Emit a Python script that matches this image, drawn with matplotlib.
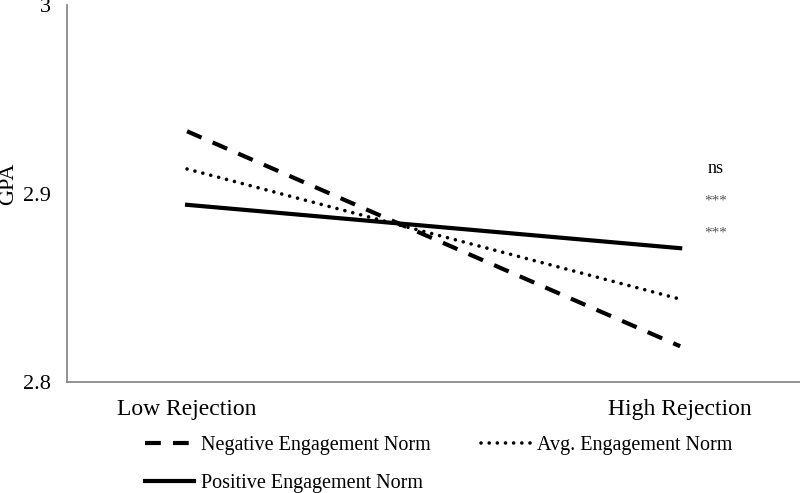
import matplotlib
matplotlib.use("Agg")
import matplotlib.pyplot as plt

categories = ["Low Rejection", "High Rejection"]
neg_norm = [2.933, 2.819]
avg_norm = [2.913, 2.844]
pos_norm = [2.894, 2.871]
sig_labels = ["ns", "***", "***"]
sig_y = [2.913, 2.896, 2.879]

plt.rcParams["font.family"] = ["Liberation Serif", "DejaVu Serif"]

fig = plt.figure(figsize=(8, 4.93), dpi=100)
ax = fig.add_axes([0.084, 0.225, 0.916, 0.765])

x = [0, 1]
l_neg, = ax.plot(x, neg_norm, color="black", lw=3, ls=(0, (3.8, 2.9)),
                 solid_capstyle="butt", dash_capstyle="butt")
l_avg, = ax.plot(x, avg_norm, color="black", lw=2.6, ls=(0, (0.01, 2.25)),
                 dash_capstyle="round")
l_pos, = ax.plot(x, pos_norm, color="black", lw=3, ls="-")

for lab, yy in zip(sig_labels, sig_y):
    if lab == "ns":
        ax.text(1.072, yy, lab, ha="center", va="center", fontsize=13, color="black")
    else:
        ax.text(1.072, yy, lab, ha="center", va="center", fontsize=11, color="#555555")

ax.set_xlim(-0.243, 1.243)
ax.set_ylim(2.8, 3.0)
ax.set_yticks([2.8, 2.9, 3.0])
ax.set_yticklabels(["2.8", "2.9", "3"])
ax.set_xticks(x)
ax.set_xticklabels(categories)
ax.tick_params(length=0)
ax.tick_params(axis="y", labelsize=16, pad=12)
ax.tick_params(axis="x", labelsize=17, pad=12)
ax.set_ylabel("GPA", fontsize=16, va="center")
ax.yaxis.set_label_coords(-0.08, 0.527)

for s in ["top", "right"]:
    ax.spines[s].set_visible(False)
ax.spines["left"].set_color("#808080")
ax.spines["bottom"].set_color("#808080")
ax.spines["left"].set_linewidth(1.2)
ax.spines["bottom"].set_linewidth(1.2)

fig.legend([l_neg, l_pos, l_avg],
           ["Negative Engagement Norm", "Positive Engagement Norm", "Avg. Engagement Norm"],
           ncol=2, loc="center left", bbox_to_anchor=(0.158, 0.058),
           frameon=False, fontsize=14.5, handlelength=2.45, handletextpad=0.35,
           columnspacing=2.5, labelspacing=0.95)

fig.savefig("out.png", dpi=100)
